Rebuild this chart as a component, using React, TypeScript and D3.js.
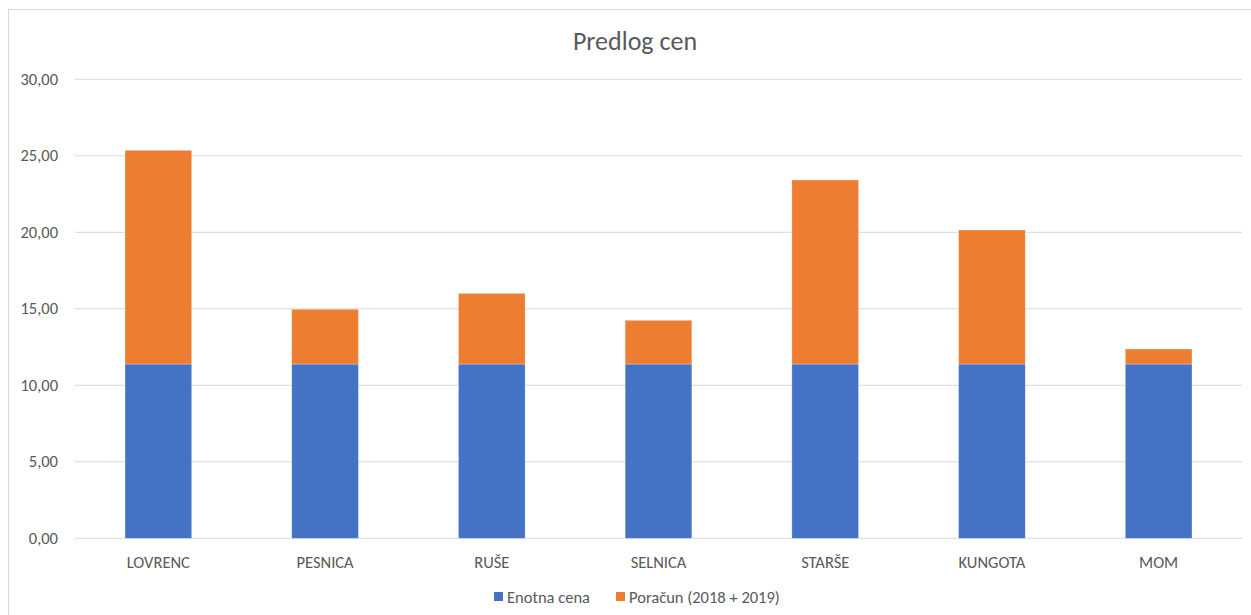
import React from "react";
import * as d3 from "d3";

const categories = ["LOVRENC", "PESNICA", "RUŠE", "SELNICA", "STARŠE", "KUNGOTA", "MOM"];
const enotnaCena = [11.39, 11.39, 11.39, 11.39, 11.39, 11.39, 11.39];
const poracun = [13.97, 3.58, 4.62, 2.86, 12.03, 8.76, 0.98];
const yTicks = [0, 5, 10, 15, 20, 25, 30];
const seriesNames = ["Enotna cena", "Poračun (2018 + 2019)"];
const colors = ["#4472C4", "#ED7D31"];

const W = 1251;
const H = 615;
const plot = { left: 75, right: 1242, top: 79.3, bottom: 538.3 };
const font = "Calibri, Carlito, 'Open Sans', sans-serif";

export default function App() {
  const x = d3
    .scaleBand<string>()
    .domain(categories)
    .range([plot.left, plot.right])
    .paddingInner(0.6)
    .paddingOuter(0.3);
  const y = d3.scaleLinear().domain([0, 30]).range([plot.bottom, plot.top]);
  const fmt = (v: number) => v.toFixed(2).replace(".", ",");

  const stackData = categories.map((c, i) => ({ c, a: enotnaCena[i], b: poracun[i] }));
  const stack = d3.stack<any>().keys(["a", "b"])(stackData);

  return (
    <svg
      width={W}
      height={H}
      style={{ position: "absolute", left: 0, top: 0, background: "#fff" }}
      fontFamily={font}
    >
      <rect x={8.5} y={9.5} width={1260} height={620} fill="#fff" stroke="#d9d9d9" />
      <text x={635} y={50} textAnchor="middle" fontSize={26} fill="#595959">
        Predlog cen
      </text>
      {yTicks.map((t) => (
        <g key={t}>
          <line x1={plot.left} x2={plot.right} y1={y(t)} y2={y(t)} stroke="#d9d9d9" strokeWidth={1} />
          <text x={58} y={y(t) + 5.5} textAnchor="end" fontSize={16.5} fill="#595959">
            {fmt(t)}
          </text>
        </g>
      ))}
      {stack.map((s, si) =>
        s.map((d, i) => (
          <rect
            key={si + "-" + i}
            x={x(categories[i])!}
            width={x.bandwidth()}
            y={y(d[1])}
            height={y(d[0]) - y(d[1])}
            fill={colors[si]}
            stroke="#fff"
            strokeOpacity={0.4}
            strokeWidth={0.75}
          />
        ))
      )}
      {categories.map((c) => (
        <text
          key={c}
          x={x(c)! + x.bandwidth() / 2}
          y={567.5}
          textAnchor="middle"
          fontSize={16.5}
          fill="#595959"
        >
          {c}
        </text>
      ))}
      <g>
        <rect x={494} y={592} width={9} height={9} fill={colors[0]} />
        <text x={507} y={603} fontSize={16.5} fill="#595959">
          {seriesNames[0]}
        </text>
        <rect x={616} y={592} width={9} height={9} fill={colors[1]} />
        <text x={629} y={603} fontSize={16.5} fill="#595959">
          {seriesNames[1]}
        </text>
      </g>
    </svg>
  );
}
